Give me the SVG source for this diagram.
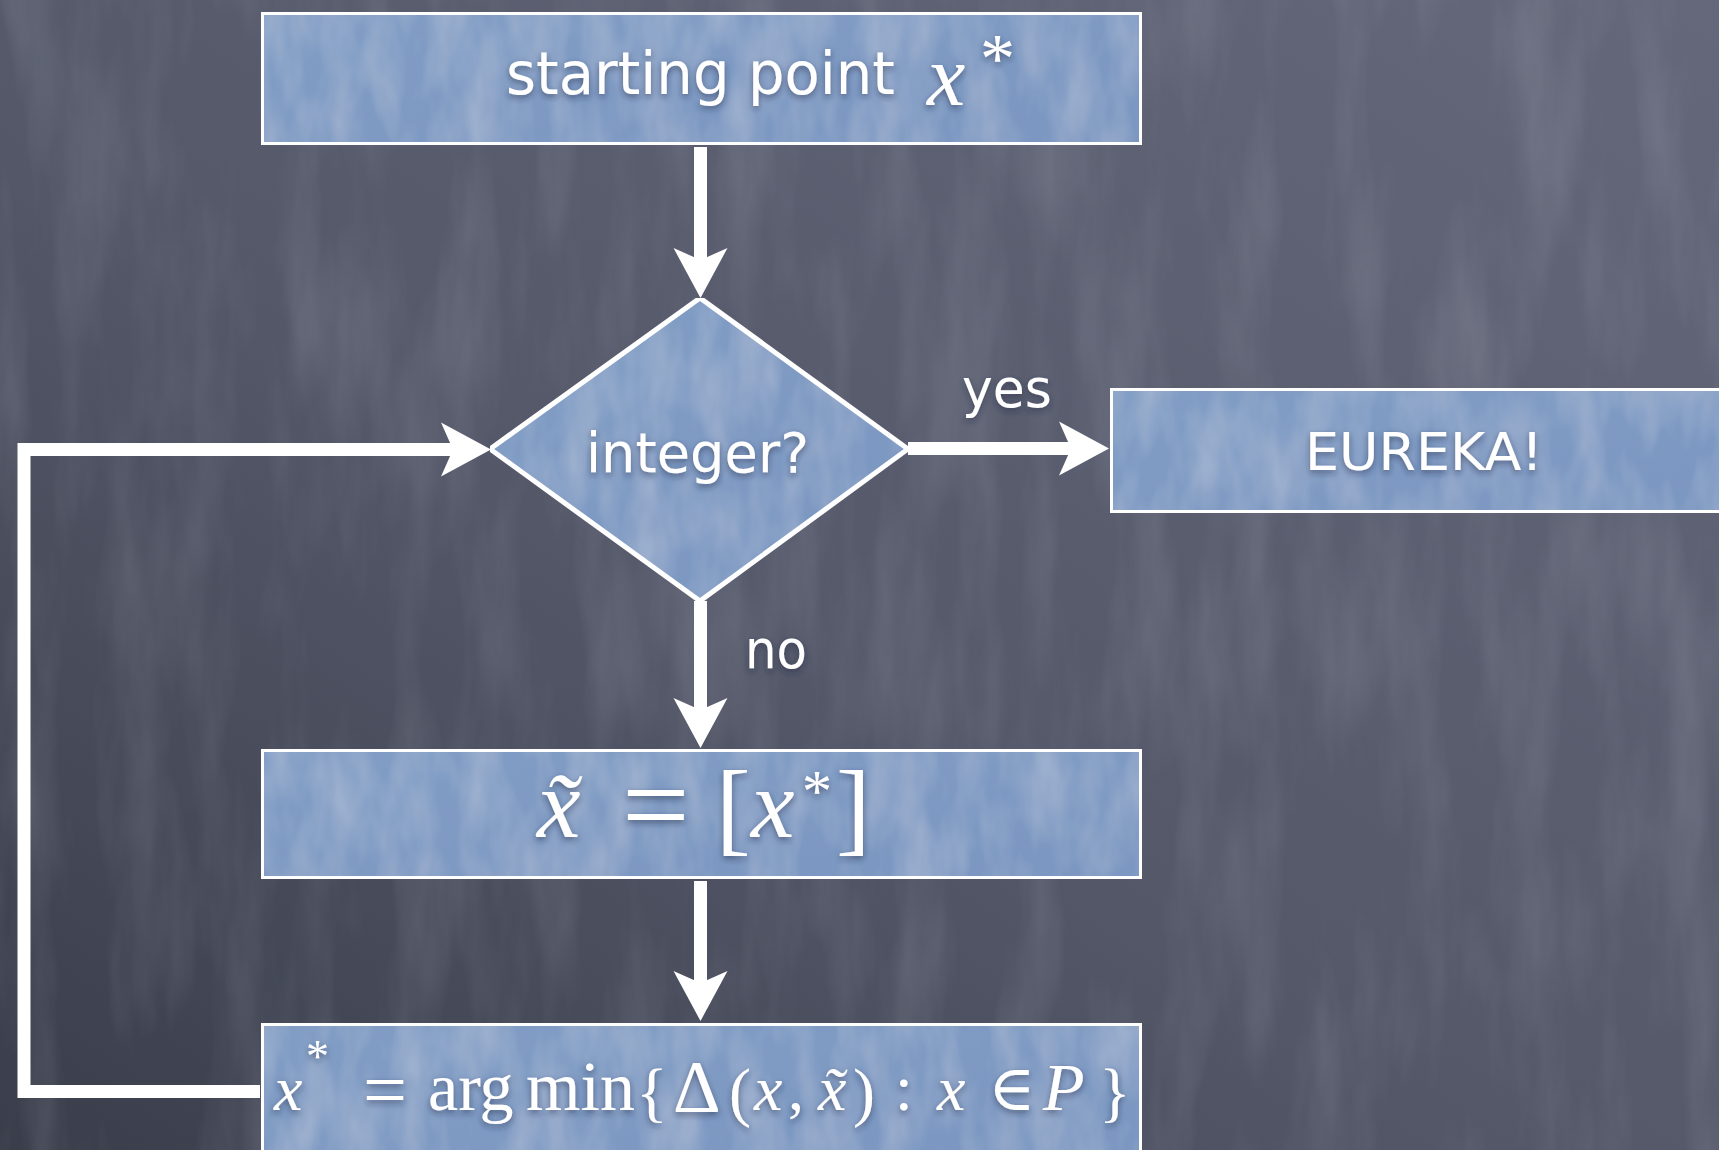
<svg xmlns="http://www.w3.org/2000/svg" width="1719" height="1150" viewBox="0 0 1719 1150">
  <defs>
    <linearGradient id="bg" x1="0" y1="1" x2="1" y2="0">
      <stop offset="0" stop-color="#3a3e4b"/>
      <stop offset="0.45" stop-color="#545869"/>
      <stop offset="1" stop-color="#64687a"/>
    </linearGradient>
    <linearGradient id="boxfill" x1="0" y1="0" x2="1" y2="1">
      <stop offset="0" stop-color="#819dc5"/>
      <stop offset="0.5" stop-color="#7e9ac3"/>
      <stop offset="1" stop-color="#7b97c1"/>
    </linearGradient>
    <filter id="streaks" x="0" y="0" width="100%" height="100%">
      <feTurbulence type="fractalNoise" baseFrequency="0.018 0.004" numOctaves="4" seed="7" result="n"/>
      <feColorMatrix in="n" type="matrix" values="0 0 0 0 0.72  0 0 0 0 0.75  0 0 0 0 0.85  0 0 0 1.2 -0.5"/>
    </filter>
    <filter id="paper" x="0" y="0" width="100%" height="100%">
      <feTurbulence type="fractalNoise" baseFrequency="0.03 0.012" numOctaves="3" seed="3" result="n"/>
      <feColorMatrix in="n" type="matrix" values="0 0 0 0 1  0 0 0 0 1  0 0 0 0 1  0 0 0 0.3 -0.1" result="w"/>
      <feComposite in="w" in2="SourceGraphic" operator="in" result="wn"/>
      <feMerge><feMergeNode in="SourceGraphic"/><feMergeNode in="wn"/></feMerge>
    </filter>
    <filter id="tshadow" x="-10%" y="-30%" width="120%" height="170%">
      <feDropShadow dx="0" dy="3" stdDeviation="3" flood-color="#1e2a44" flood-opacity="0.55"/>
    </filter>
    <marker id="ah" markerUnits="userSpaceOnUse" markerWidth="52" markerHeight="60" refX="12" refY="30" orient="auto">
      <path d="M0,3 L50,30 L0,57 L12,30 Z" fill="#ffffff"/>
    </marker>
    <style>
      .box { fill: url(#boxfill); stroke: #ffffff; stroke-width: 5; filter: url(#paper); }
      .conn { fill: none; stroke: #ffffff; stroke-width: 13; stroke-linejoin: miter; stroke-linecap: butt; }
      .arr { marker-end: url(#ah); }
      .lbl { font-family: "DejaVu Sans", "Open Sans", sans-serif; fill: #ffffff; }
      .shd { filter: url(#tshadow); }
      .m { font-family: "Liberation Serif", "DejaVu Serif", serif; fill: #ffffff; }
      .mi { font-style: italic; }
      .up { font-style: normal; }
    </style>
  </defs>

  <rect x="0" y="0" width="1719" height="1150" fill="url(#bg)"/>
  <rect x="0" y="0" width="1719" height="1150" filter="url(#streaks)" opacity="0.22"/>

  <g id="connectors">
    <line class="conn arr" x1="700.5" y1="147" x2="700.5" y2="260"/>
    <line class="conn arr" x1="908" y1="448.5" x2="1071" y2="448.5"/>
    <line class="conn arr" x1="700.5" y1="601" x2="700.5" y2="710"/>
    <line class="conn arr" x1="700.5" y1="881" x2="700.5" y2="983"/>
    <polyline class="conn arr" points="260,1091.5 24,1091.5 24,449.5 453,449.5"/>
  </g>

  <g id="node-start">
    <rect class="box" x="261.5" y="12.5" width="880" height="132"/>
    <g class="shd">
      <text class="lbl" x="506" y="94" font-size="58" textLength="389" lengthAdjust="spacingAndGlyphs">starting point</text>
      <text class="m mi" font-size="86"><tspan x="927" y="105">x</tspan><tspan class="up" x="980" y="82" font-size="70">*</tspan></text>
    </g>
  </g>

  <g id="node-integer">
    <polygon class="box" points="700,298 908,449 700,601 490,449" stroke-width="4.5"/>
    <text class="lbl shd" x="586" y="472" font-size="55" textLength="223" lengthAdjust="spacingAndGlyphs">integer?</text>
  </g>

  <g id="label-yes">
    <text class="lbl shd" x="962" y="407" font-size="54" textLength="90" lengthAdjust="spacingAndGlyphs">yes</text>
  </g>
  <g id="label-no">
    <text class="lbl shd" x="745" y="668" font-size="54" textLength="62" lengthAdjust="spacingAndGlyphs">no</text>
  </g>

  <g id="node-eureka">
    <rect class="box" x="1110.5" y="388.5" width="700" height="124"/>
    <text class="lbl shd" x="1305" y="470" font-size="52" textLength="238" lengthAdjust="spacingAndGlyphs">EUREKA!</text>
  </g>

  <g id="node-round">
    <rect class="box" x="261.5" y="749.5" width="880" height="129"/>
    <text class="m shd" font-size="98"><tspan class="mi" x="537" y="837">x&#x303;</tspan><tspan x="622" y="845" font-size="120">=</tspan><tspan x="716" y="842" font-size="104">[</tspan><tspan class="mi" x="751" y="837">x</tspan><tspan x="802" y="811" font-size="60">*</tspan><tspan x="836" y="842" font-size="104">]</tspan></text>
  </g>

  <g id="node-project">
    <rect class="box" x="261.5" y="1023.5" width="880" height="140"/>
    <text class="m shd" font-size="64"><tspan class="mi" x="274" y="1110">x</tspan><tspan x="306" y="1072" font-size="46">*</tspan><tspan x="363" y="1116" font-size="78">=</tspan><tspan x="428" y="1110" font-size="68">arg</tspan><tspan x="526" y="1110" font-size="70">min</tspan><tspan x="636" y="1114" font-size="66">{</tspan><tspan x="673" y="1112" font-size="74">Δ</tspan><tspan x="729" y="1114" font-size="66">(</tspan><tspan class="mi" x="754" y="1110">x</tspan><tspan x="788" y="1110">,</tspan><tspan class="mi" x="818" y="1110">x&#x303;</tspan><tspan x="853" y="1114" font-size="66">)</tspan><tspan x="895" y="1110">:</tspan><tspan class="mi" x="937" y="1110">x</tspan><tspan x="988" y="1110">∈</tspan><tspan class="mi" x="1043" y="1110" font-size="68">P</tspan><tspan x="1099" y="1114" font-size="66">}</tspan></text>
  </g>
</svg>
